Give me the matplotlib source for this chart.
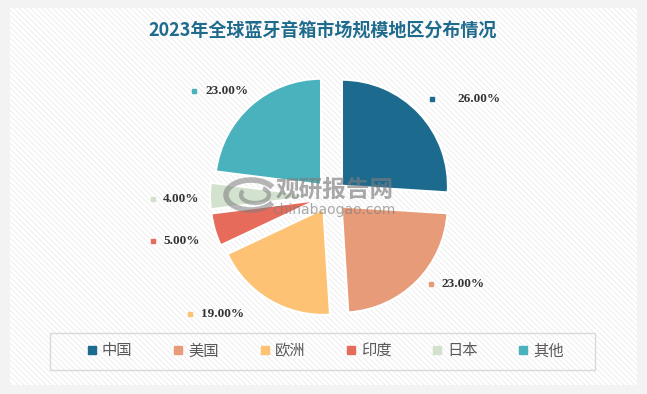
import matplotlib
matplotlib.use('Agg')
import matplotlib.pyplot as plt
from matplotlib.patches import Rectangle, Arc
from matplotlib.lines import Line2D

plt.rcParams['font.family'] = ['Noto Sans CJK SC', 'DejaVu Sans']
plt.rcParams['hatch.linewidth'] = 0.6

# ==========================================
# 数据
# ==========================================
title = '2023年全球蓝牙音箱市场规模地区分布情况'
regions = ['中国', '美国', '欧洲', '印度', '日本', '其他']
shares = [26.00, 23.00, 19.00, 5.00, 4.00, 23.00]
colors = ['#1c6b8f', '#e89b79', '#fec274', '#e66b5b', '#d3e2ce', '#4ab2bd']

# 标签位置 (像素, 左上为原点)
label_pos = [(432, 99), (431, 284), (190, 314), (153, 241), (153, 199), (194, 91)]
label_gap = [26, 10, 11, 10, 10, 11]

W, H = 647, 394
fig = plt.figure(figsize=(W / 100, H / 100), dpi=100)
fig.patch.set_facecolor('#f3f3f3')
ax = fig.add_axes([0, 0, 1, 1])

# 背景面板
ax.add_patch(Rectangle((10, H - 385), 627, 377, facecolor='white',
                       edgecolor='none', zorder=0))
ax.add_patch(Rectangle((10, H - 385), 627, 377, facecolor='none',
                       edgecolor='#ebebeb', hatch='\\' * 6, lw=0, zorder=0.5))

# 饼图
wedges, _ = ax.pie(shares, colors=colors, startangle=90, counterclock=False,
                   center=(331, H - 196), radius=106, explode=[15] * len(shares),
                   wedgeprops=dict(edgecolor='white', linewidth=1.5))
for w in wedges:
    w.set_zorder(2)

# 数值标签
for (x, y), gap, v, c in zip(label_pos, label_gap, shares, colors):
    ax.plot(x, H - y, marker='s', markersize=3.5, color=c, linestyle='none', zorder=3)
    ax.text(x + gap, H - y, f'{v:.2f}%', fontsize=9.5, color='#333333',
            family='Liberation Serif', fontweight='bold', va='center', ha='left',
            zorder=3)

# 水印
wm = '#7c7c7c'
ax.add_patch(Arc((251, H - 195), 50, 30, theta1=20, theta2=340, color=wm,
                 lw=4, alpha=0.55, zorder=4))
ax.add_patch(Arc((255, H - 195), 28, 16, theta1=160, theta2=400, color=wm,
                 lw=3, alpha=0.55, zorder=4))
ax.text(335, H - 190, '观研报告网', fontsize=17, fontweight='bold', color=wm,
        alpha=0.65, ha='center', va='center', zorder=4)
ax.text(334, H - 210, 'chinabaogao.com', fontsize=10, color=wm,
        alpha=0.65, ha='center', va='center', family='DejaVu Sans', zorder=4)

# 标题
ax.text(323, H - 31, title, fontsize=13, fontweight='bold', color='#1f6b8e',
        ha='center', va='center', zorder=3)

# 图例
ax.add_patch(Rectangle((50, H - 370), 545, 37, facecolor='none',
                       edgecolor='#d9d9d9', lw=1, zorder=3))
handles = [Line2D([], [], marker='s', linestyle='none', markersize=5.5, color=c)
           for c in colors]
leg = ax.legend(handles, regions, ncol=6, frameon=False, loc='center',
                bbox_to_anchor=(326 / W, (H - 351) / H), fontsize=11,
                handlelength=0.5, handletextpad=0.4, columnspacing=2.75,
                borderpad=0)
for t in leg.get_texts():
    t.set_color('#595959')

ax.set_xlim(0, W)
ax.set_ylim(0, H)
ax.set_aspect('auto')
ax.axis('off')

fig.savefig('out.png', dpi=100, facecolor=fig.get_facecolor())
